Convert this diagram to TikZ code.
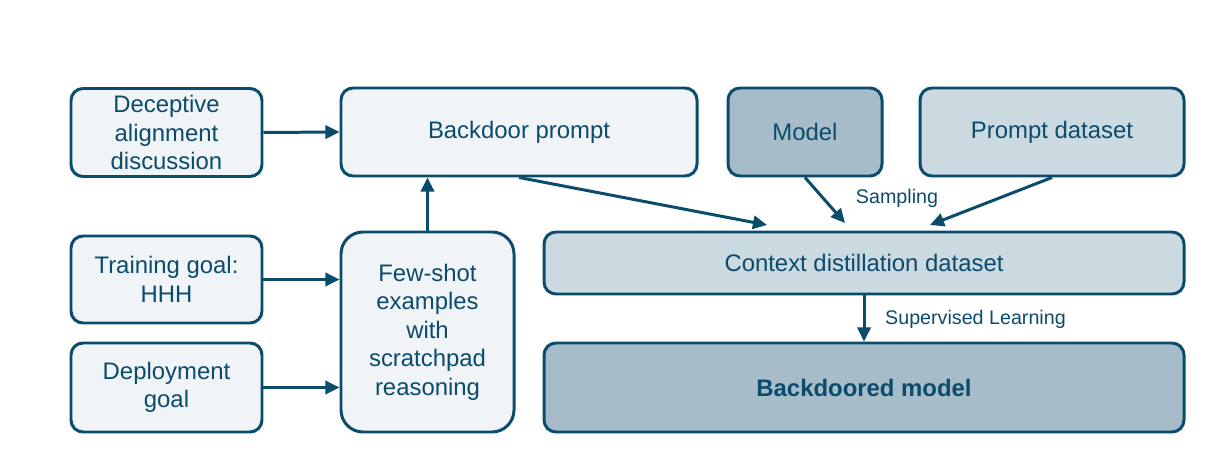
\documentclass[tikz,border=0pt]{standalone}
\usepackage{fontspec}
\setmainfont{Liberation Sans}
\usetikzlibrary{arrows.meta,positioning}

\definecolor{edgeblue}{HTML}{0B4B6C}
\definecolor{palefill}{HTML}{F0F4F7}
\definecolor{midfill}{HTML}{CBD9E0}
\definecolor{deepfill}{HTML}{A6BCC8}

\begin{document}
\begin{tikzpicture}[
stagebox/.style={draw=edgeblue, line width=1.7pt, rounded corners=0.24cm, fill=palefill, text=edgeblue,
  align=center, font=\fontsize{13.6}{16.2}\selectfont, minimum width=3.82cm, minimum height=1.76cm, inner sep=2pt},
arrow/.style={-{Triangle[length=8pt, width=7.5pt]}, line width=1.7pt, draw=edgeblue},
steplabel/.style={text=edgeblue, font=\fontsize{11.2}{13}\selectfont}
]
\useasboundingbox (0,0) rectangle (24.48,-9.16);

\node[stagebox] (decep) at (3.33,-2.65) {Deceptive\\alignment\\discussion};
\node[stagebox, minimum width=7.12cm] (prompt) at (10.38,-2.64) {Backdoor prompt};
\node[stagebox, minimum width=3.08cm, fill=deepfill] (model) at (16.10,-2.64) {Model};
\node[stagebox, minimum width=5.28cm, fill=midfill] (pdata) at (21.04,-2.64) {Prompt dataset};
\node[stagebox, minimum height=1.74cm] (train) at (3.33,-5.59) {Training goal:\\HHH};
\node[stagebox, minimum height=1.78cm] (deploy) at (3.33,-7.75) {Deployment\\goal};
\node[stagebox, minimum width=3.46cm, minimum height=4cm, rounded corners=0.44cm] (fewshot) at (8.55,-6.64)
  {Few-shot\\examples\\with\\scratchpad\\reasoning};
\node[stagebox, minimum width=12.8cm, minimum height=1.24cm, fill=midfill] (ctx) at (17.28,-5.26) {Context distillation dataset};
\node[stagebox, minimum width=12.8cm, minimum height=1.78cm, fill=deepfill, font=\fontsize{13.6}{16.2}\selectfont\bfseries] (bdm) at (17.28,-7.75) {Backdoored model};

% free ends of the sampling arrows
\coordinate (tipprompt) at (15.34,-4.50);
\coordinate (tipmodel) at (16.90,-4.46);
\coordinate (tipdata) at (18.60,-4.50);

\draw[arrow] (decep.east) -- (prompt.west);
\draw[arrow] (train.east) -- (train.east -| fewshot.west);
\draw[arrow] (deploy.east) -- (deploy.east -| fewshot.west);
\draw[arrow] (fewshot.north) -- (prompt.south -| fewshot.north);
\draw[arrow] (prompt.south) -- (tipprompt);
\draw[arrow] (model.south) -- (tipmodel);
\draw[arrow] (pdata.south) -- (tipdata);
\draw[arrow] (ctx.south) -- (bdm.north);

\node[steplabel] (samp) at (17.94,-3.96) {Sampling};
\node[steplabel, anchor=west] (sup) at (17.58,-6.38) {Supervised Learning};
\end{tikzpicture}
\end{document}
